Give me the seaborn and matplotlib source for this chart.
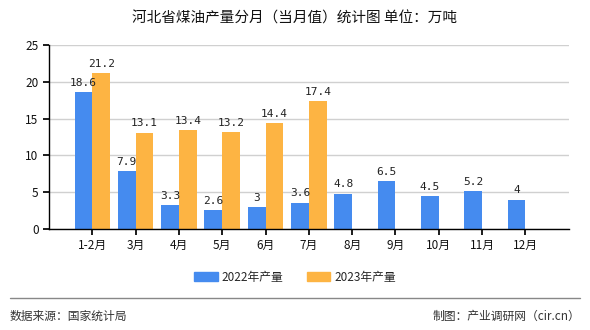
import numpy as np
import pandas as pd
import matplotlib
matplotlib.use("Agg")
import matplotlib.pyplot as plt
import seaborn as sns
from matplotlib.lines import Line2D

months = ["1-2月", "3月", "4月", "5月", "6月", "7月", "8月", "9月", "10月", "11月", "12月"]
prod_2022 = [18.6, 7.9, 3.3, 2.6, 3, 3.6, 4.8, 6.5, 4.5, 5.2, 4]
prod_2023 = [21.2, 13.1, 13.4, 13.2, 14.4, 17.4, None, None, None, None, None]
series_names = ["2022年产量", "2023年产量"]
colors = ["#458BEF", "#FDB443"]

title = "河北省煤油产量分月（当月值）统计图 单位：万吨"
source = "数据来源：国家统计局"
maker = "制图：产业调研网（cir.cn）"

sns.set_theme(style="white")
plt.rcParams["font.family"] = ["Noto Sans CJK SC", "DejaVu Sans"]

rows = []
for m, a, b in zip(months, prod_2022, prod_2023):
    rows.append({"月份": m, "系列": series_names[0], "值": a})
    rows.append({"月份": m, "系列": series_names[1], "值": np.nan if b is None else b})
df = pd.DataFrame(rows)

fig = plt.figure(figsize=(5.9, 3.3), dpi=100)
ax = fig.add_axes([0.083, 0.306, 0.881, 0.558])

sns.barplot(data=df, x="月份", y="值", hue="系列", order=months,
            hue_order=series_names, palette=colors, width=0.82, gap=0,
            saturation=1, linewidth=0, ax=ax, legend=True)

for cont in ax.containers:
    vals = cont.datavalues
    labels = ["" if np.isnan(v) else f"{v:g}" for v in vals]
    ax.bar_label(cont, labels=labels, padding=3, fontsize=8,
                 family=["DejaVu Sans Mono"], color="#222222")

ax.set_xlim(-1, 11)
ax.set_ylim(0, 25)
ax.set_yticks([0, 5, 10, 15, 20, 25])
ax.set_xlabel("")
ax.set_ylabel("")
ax.yaxis.grid(True, color="#d0d0d0", linewidth=1)
ax.set_axisbelow(True)
for s in ["top", "right"]:
    ax.spines[s].set_visible(False)
for s in ["left", "bottom"]:
    ax.spines[s].set_color("black")
    ax.spines[s].set_linewidth(1)
ax.tick_params(axis="both", which="major", labelsize=8.5, length=4,
               direction="out", color="black", bottom=True, left=True,
               labelcolor="#111111")

ax.legend_.remove()
handles = [plt.Rectangle((0, 0), 1, 1, color=c) for c in colors]
fig.legend(handles, series_names, loc="center", bbox_to_anchor=(0.5, 0.16),
           ncol=2, frameon=False, fontsize=8.5, handlelength=2.0,
           handleheight=0.7, columnspacing=2.0, handletextpad=0.3)

fig.text(0.5, 0.945, title, ha="center", va="center", fontsize=10.5, color="#111111")
fig.add_artist(Line2D([0.017, 0.983], [0.097, 0.097], color="#888888", linewidth=1))
fig.text(0.017, 0.042, source, ha="left", va="center", fontsize=8.5, color="#333333")
fig.text(0.983, 0.042, maker, ha="right", va="center", fontsize=8.5, color="#333333")

fig.savefig("out.png", dpi=100)
